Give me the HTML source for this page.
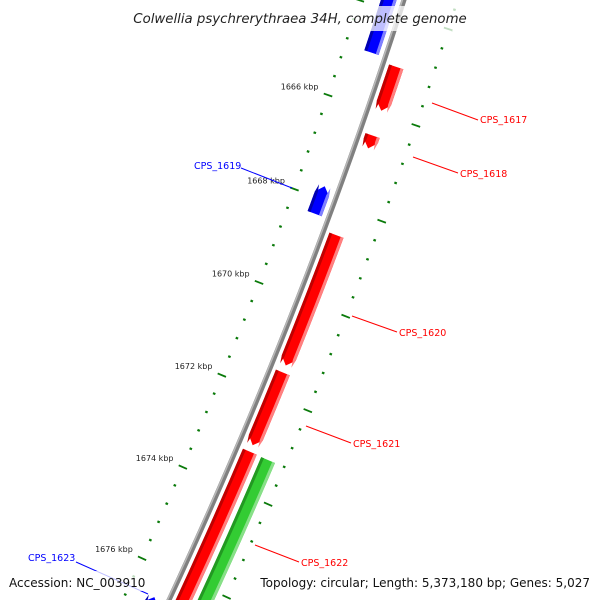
<!DOCTYPE html>
<html><head><meta charset="utf-8"><style>
html,body{margin:0;padding:0;background:#fff;width:600px;height:600px;overflow:hidden;}
svg{display:block;font-family:"DejaVu Sans","Liberation Sans",sans-serif;}
</style></head><body>
<svg id="map" width="600" height="600" viewBox="0 0 600 600">
<g id="ticks"></g>
<g id="backbone"></g>
<g id="features"></g>
<g id="labels">
<line x1="432" y1="103" x2="478" y2="120" stroke="#f00" stroke-width="1"/>
<text x="480" y="123" font-size="9.5" fill="#f00">CPS_1617</text>
<line x1="413" y1="157" x2="458" y2="173" stroke="#f00" stroke-width="1"/>
<text x="460" y="177" font-size="9.5" fill="#f00">CPS_1618</text>
<line x1="241" y1="168" x2="292" y2="188" stroke="#00f" stroke-width="1"/>
<text x="194" y="169" font-size="9.5" fill="#00f">CPS_1619</text>
<line x1="352" y1="316" x2="397" y2="332" stroke="#f00" stroke-width="1"/>
<text x="399" y="336" font-size="9.5" fill="#f00">CPS_1620</text>
<line x1="306" y1="426" x2="351" y2="443" stroke="#f00" stroke-width="1"/>
<text x="353" y="447" font-size="9.5" fill="#f00">CPS_1621</text>
<line x1="255" y1="545" x2="299" y2="562" stroke="#f00" stroke-width="1"/>
<text x="301" y="566" font-size="9.5" fill="#f00">CPS_1622</text>
<line x1="76" y1="562" x2="148" y2="594" stroke="#00f" stroke-width="1"/>
<text x="28" y="561" font-size="9.5" fill="#00f">CPS_1623</text>
</g>
<rect x="126" y="6" width="348" height="25" fill="#fff" fill-opacity="0.75"/>
<text x="300" y="23" text-anchor="middle" font-size="13.3" font-style="italic" fill="#222">Colwellia psychrerythraea 34H, complete genome</text>
<rect x="5" y="571" width="146" height="20" fill="#fff" fill-opacity="0.75"/>
<text x="9" y="587" font-size="12" fill="#111">Accession: NC_003910</text>
<rect x="256" y="571" width="339" height="20" fill="#fff" fill-opacity="0.75"/>
<text x="590" y="587" text-anchor="end" font-size="12" fill="#111">Topology: circular; Length: 5,373,180 bp; Genes: 5,027</text>
</svg>
<script>
const tickKbp = [1662,1664,1666,1668,1670,1672,1674,1676,1678];
const tickLabels = ["1662 kbp","1664 kbp","1666 kbp","1668 kbp","1670 kbp","1672 kbp","1674 kbp","1676 kbp","1678 kbp"];
const featNames = ["CPS_1616","CPS_1617","CPS_1618","CPS_1619","CPS_1620","CPS_1621","CPS_1622","CPS_1622b","CPS_1623"];
const featStart = [1660.0,1665.03,1666.47,1667.74,1668.57,1671.49,1673.19,1673.2,1676.6];
const featEnd   = [1664.92,1665.95,1666.74,1668.32,1671.34,1673.05,1680.0,1680.0,1680.0];
const featStrand= [-1,1,1,-1,1,1,1,1,-1];
const featTrack = ["rev","fwd","fwd","rev","fwd","fwd","fwd","outer","rev"];

const NS="http://www.w3.org/2000/svg";
const CX=-4535, CY=-1588;
function ang(k){return (19.09+(k-1666)*0.556)*Math.PI/180;}
function pt(r,k){const a=ang(k);return [CX+r*Math.cos(a),CY+r*Math.sin(a)];}
function mk(tag,attrs,parent){const e=document.createElementNS(NS,tag);for(const k in attrs)e.setAttribute(k,attrs[k]);parent.appendChild(e);return e;}

const tg=document.getElementById('ticks');
const rIn=5146, rOut=5239;
for(let k=1660;k<=1680.001;k+=0.4){
  const kk=Math.round(k*10)/10;
  const major=Math.abs(kk/2-Math.round(kk/2))<0.01;
  [rIn,rOut].forEach(r=>{
    const h=major?4.5:1.3;
    const a=pt(r-h,kk),b=pt(r+h,kk);
    const l=mk('line',{x1:a[0],y1:a[1],x2:b[0],y2:b[1],stroke:'#0a7a0a','stroke-width':major?1.8:2.2},tg);
    
    
  });
}
tickKbp.forEach((k,i)=>{
  const p=pt(rIn-8,k);
  const t=mk('text',{x:p[0]-2,y:p[1]-3,'font-size':8,'text-anchor':'end',fill:'#222'},tg);
  t.textContent=tickLabels[i];
  
  
});

const bg=document.getElementById('backbone');
function arcPath(r,k1,k2){let d='';for(let i=0;i<=40;i++){const k=k1+(k2-k1)*i/40;const p=pt(r,k);d+=(i?'L':'M')+p[0].toFixed(2)+' '+p[1].toFixed(2);}return d;}
let bb=mk('path',{d:arcPath(5188,1660,1680),stroke:'#808080','stroke-width':5,fill:'none'},bg);


mk('path',{d:arcPath(5186.5,1660,1680),stroke:'#b8b8b8','stroke-width':1.5,fill:'none'},bg);

const fg=document.getElementById('features');
const tracks={fwd:[5194,5209],rev:[5166,5181],outer:[5214,5229]};
const cols={fwd:['#ff0000','#c00000','#ff8080'],rev:['#0000ff','#0000b0','#8080ff'],outer:['#33cc33','#229922','#88e088']};
function shape(r1,r2,k1,k2,strand){
  const hd=8/5200*180/Math.PI/0.556;
  const rm=(r1+r2)/2;let pts=[];
  const len=k2-k1; const h=Math.min(hd,len);
  if(strand>0){
    const e=k2-h;
    for(let i=0;i<=20;i++)pts.push(pt(r2,k1+(e-k1)*i/20));
    pts.push(pt(rm,k2));
    for(let i=20;i>=0;i--)pts.push(pt(r1,k1+(e-k1)*i/20));
  }else{
    const s=k1+h;
    pts.push(pt(rm,k1));
    for(let i=0;i<=20;i++)pts.push(pt(r2,s+(k2-s)*i/20));
    for(let i=20;i>=0;i--)pts.push(pt(r1,s+(k2-s)*i/20));
  }
  return pts.map(p=>p[0].toFixed(2)+','+p[1].toFixed(2)).join(' ');
}
featNames.forEach((n,i)=>{
  const tr=featTrack[i];const [r1,r2]=tracks[tr];const c=cols[tr];
  const g=mk('g',{},fg);
  
  
  mk('polygon',{points:shape(r1,r2,featStart[i],featEnd[i],featStrand[i]),fill:c[0]},g);
  mk('polygon',{points:shape(r1,r1+3,featStart[i],featEnd[i],featStrand[i]),fill:c[1]},g);
  mk('polygon',{points:shape(r2-3,r2,featStart[i],featEnd[i],featStrand[i]),fill:c[2]},g);
});
</script>
</body></html>
